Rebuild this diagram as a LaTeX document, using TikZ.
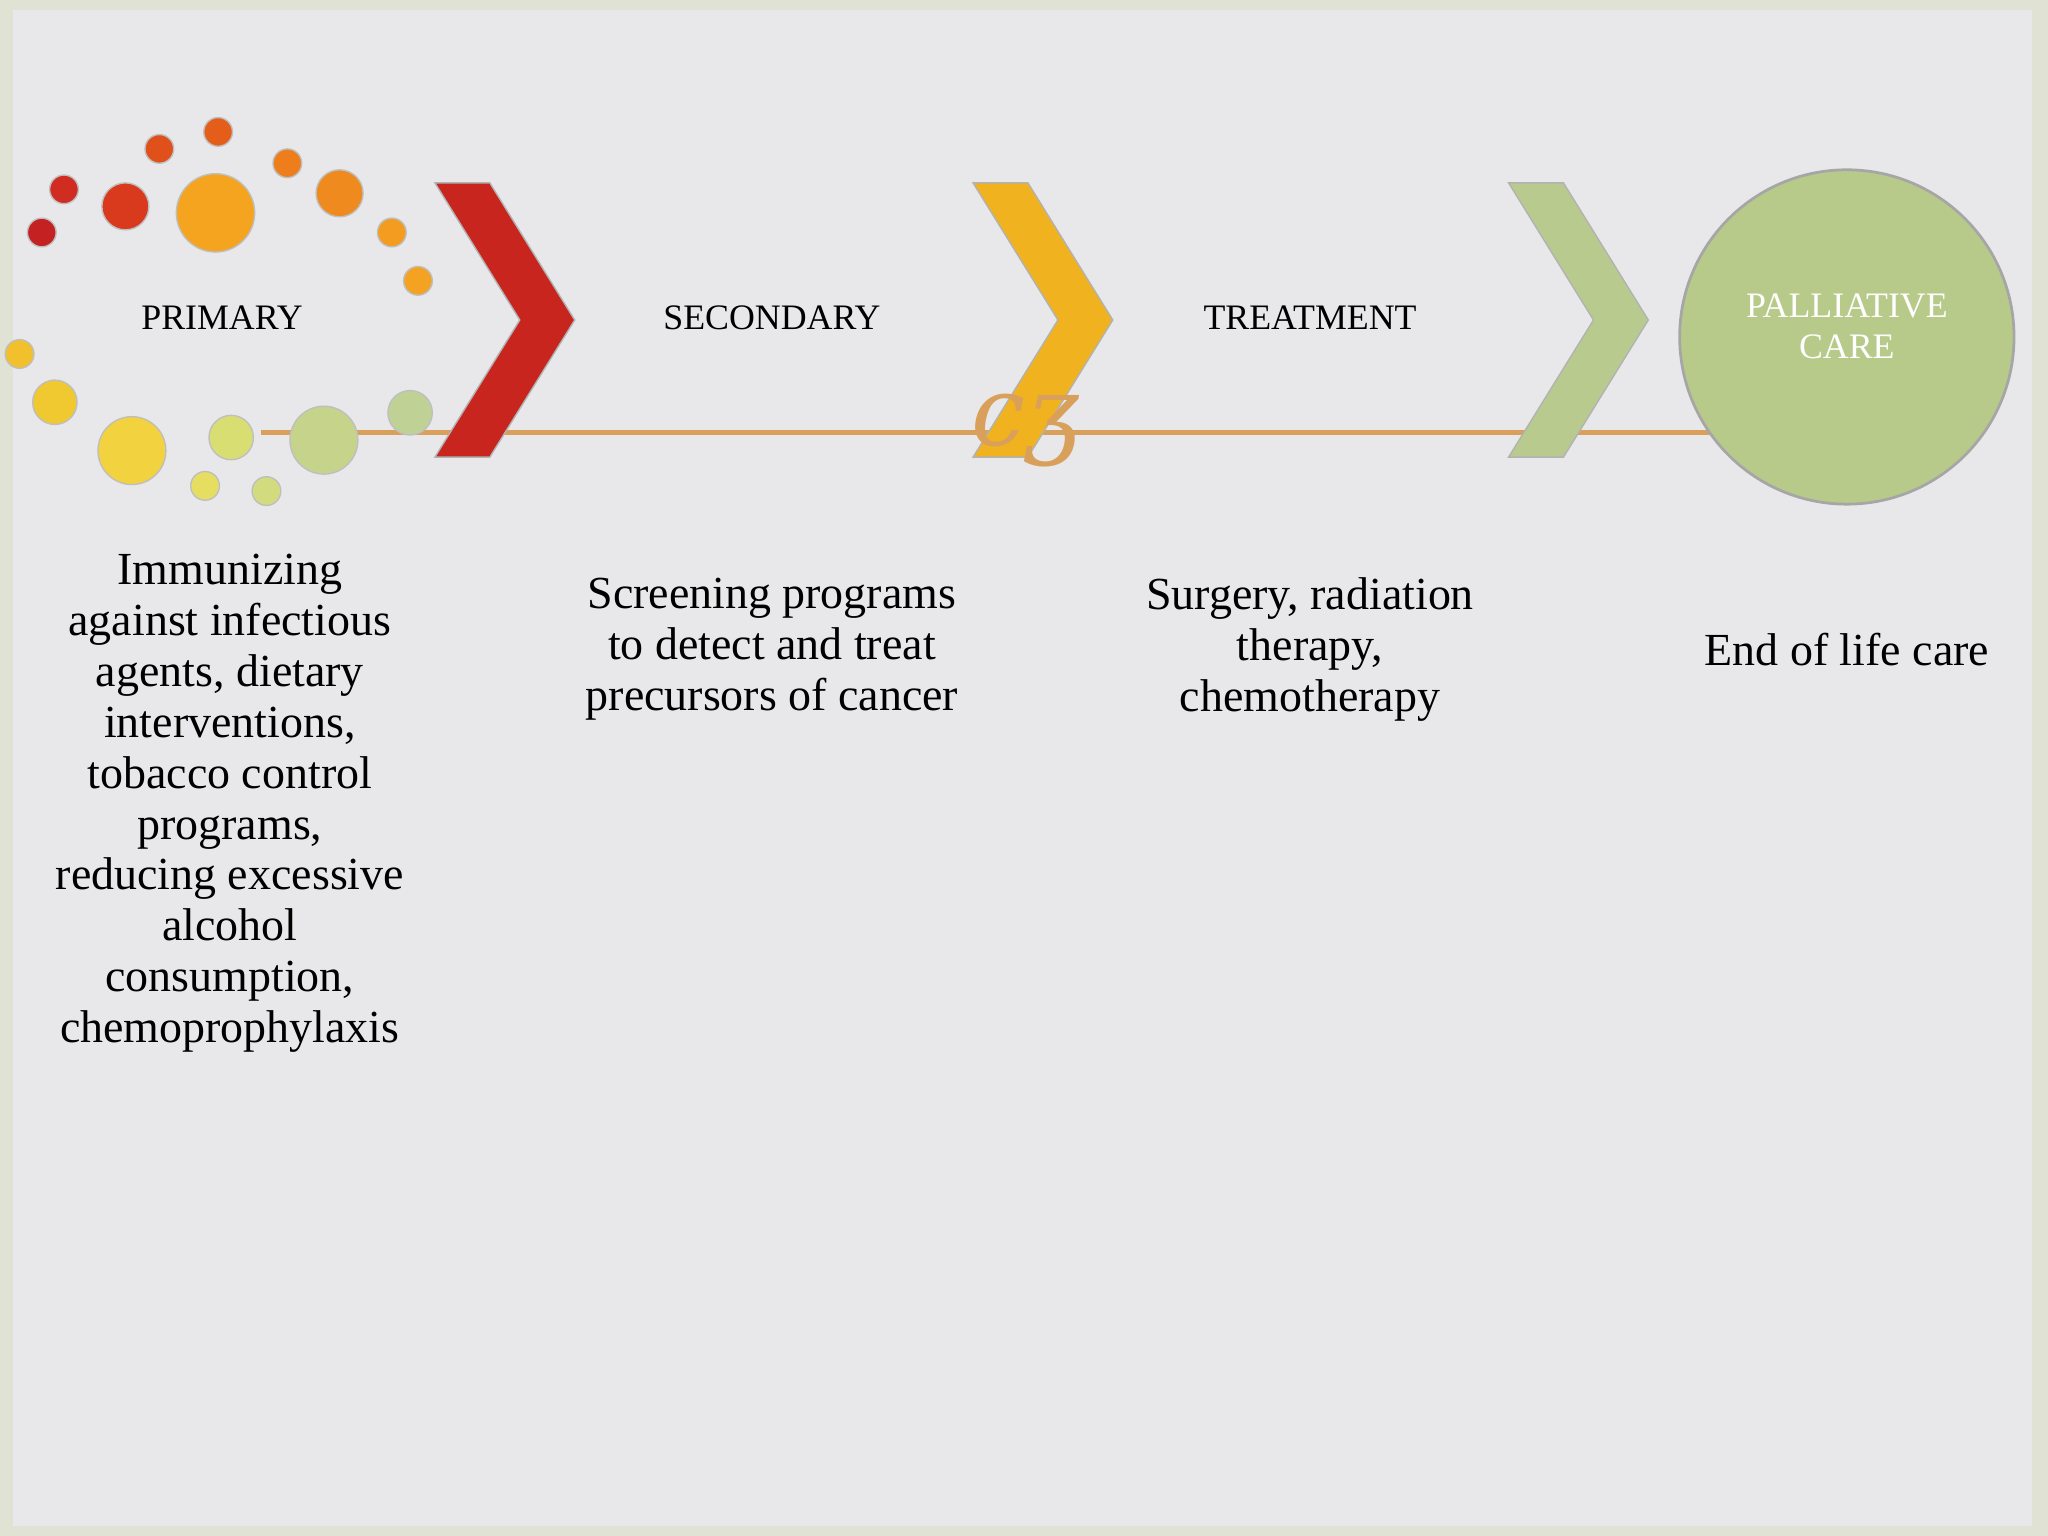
\documentclass[tikz,border=0pt]{standalone}
\usepackage{fontspec}
\setmainfont{Liberation Serif}
\newfontfamily\ornfont{DejaVu Serif}
\usetikzlibrary{positioning}
\definecolor{bgcol}{HTML}{E8E8EA}
\definecolor{edgecol}{HTML}{E0E2D4}
\definecolor{linecol}{HTML}{D9A05B}
\definecolor{chevred}{HTML}{C8251F}
\definecolor{chevyel}{HTML}{F0B21E}
\definecolor{chevgrn}{HTML}{B9CA8E}
\definecolor{palcol}{HTML}{B8CA8A}
\tikzstyle{stage} = [font=\fontsize{7.8}{9}\selectfont, text=black]
\tikzstyle{desc} = [font=\fontsize{10}{11.1}\selectfont, align=center]
\tikzstyle{dot} = [draw=black!25, line width=0.3pt]
\tikzstyle{chev} = [draw=black!30, line width=0.3pt]
\begin{document}
\begin{tikzpicture}[x=0.01cm,y=-0.01cm]
    \fill[edgecol] (0,0) rectangle (1568,1176);
    \fill[bgcol] (10,8) rectangle (1556,1168);
    \useasboundingbox (0,0) rectangle (1568,1176);

    % axis line
    \coordinate (lstart) at (200,331);
    \coordinate (lend) at (1315,331);
    \draw[linecol, line width=1pt] (lstart) -- (lend);

    % dots
    \foreach \x/\y/\r/\c in {32/178/11/C42222, 49/145/11/D02C22, 96/158/18/D93A1E,
        122/114/11/E0501A, 167/101/11/E45E1A, 165/163/30/F4A41E, 220/125/11/EE7E1C,
        260/148/18/EE8A1E, 300/178/11/F39C20, 320/215/11/F3A222, 15/271/11/F2C02C,
        42/308/17/F0C830, 101/345/26/F2D23E, 157/372/11/E6DE60, 177/335/17/D9DE72,
        204/376/11/D2DC7E, 248/337/26/C6D38A, 314/316/17/C0D196}
        {\definecolor{dc}{HTML}{\c}\fill[dot, fill=dc] (\x,\y) circle (\r);}

    % chevrons
    \foreach \x/\c in {333/chevred, 745/chevyel, 1155/chevgrn}
        \filldraw[chev, fill=\c] (\x,140) -- (\x+42,140) -- (\x+107,245) -- (\x+42,350)
            -- (\x,350) -- (\x+65,245) -- cycle;

    \node[font=\ornfont\itshape\fontsize{21}{21}\selectfont, text=linecol, inner sep=0pt] (orn) at (785,330) {cʒ};

    % palliative circle
    \filldraw[fill=palcol, draw=black!35, line width=0.6pt] (1414,258) circle (128);

    \node[stage] (primary) at (170,243) {PRIMARY};
    \node[stage] (secondary) at (591,243) {SECONDARY};
    \node[stage] (treatment) at (1003,243) {TREATMENT};
    \node[stage, text=white, align=center, font=\fontsize{7.8}{8.8}\selectfont] (palliative) at (1414,250) {PALLIATIVE\\CARE};

    \node[desc] (primdesc) at (176,615) {Immunizing\\against infectious\\agents, dietary\\interventions,\\tobacco control\\programs,\\reducing excessive\\alcohol\\consumption,\\chemoprophylaxis};
    \node[desc] (secdesc) at (591,497) {Screening programs\\to detect and treat\\precursors of cancer};
    \node[desc] (treatdesc) at (1003,497) {Surgery, radiation\\therapy,\\chemotherapy};
    \node[desc] (paldesc) at (1414,497) {End of life care};
\end{tikzpicture}
\end{document}
